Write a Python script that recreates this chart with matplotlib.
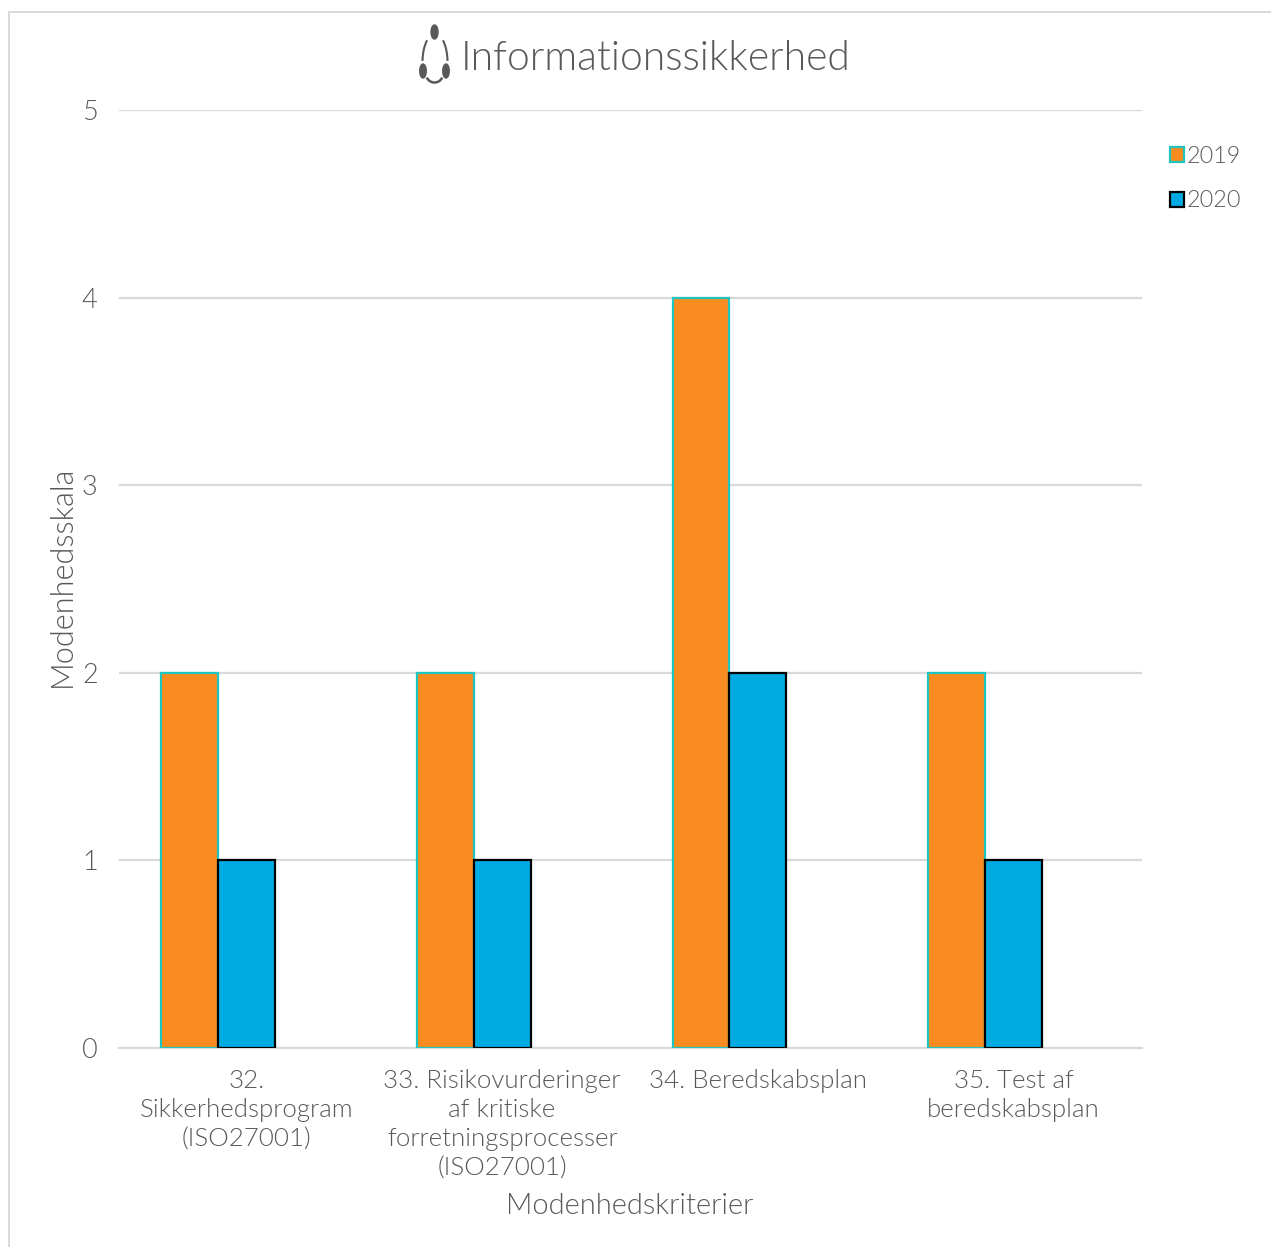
import matplotlib
matplotlib.use("Agg")
from matplotlib import pyplot as plt
from matplotlib.patches import Ellipse, Arc
import numpy as np

categories = ["32.\nSikkerhedsprogram\n(ISO27001)",
              "33. Risikovurderinger\naf kritiske\nforretningsprocesser\n(ISO27001)",
              "34. Beredskabsplan",
              "35. Test af\nberedskabsplan"]
values_2019 = [2, 2, 4, 2]
values_2020 = [1, 1, 2, 1]
yticks = [0, 1, 2, 3, 4, 5]

W, H = 1271, 1247
GREY = "#595959"
plt.rcParams["font.family"] = ["Lato", "DejaVu Sans"]
plt.rcParams["font.weight"] = 300

fig = plt.figure(figsize=(W / 100, H / 100), dpi=100)
ax = fig.add_axes([118.5 / W, 1 - 1048 / H, (1141 - 118) / W, (1048 - 110) / H])

# three slots per category, the third one stays empty
x = np.arange(len(categories))
width = 1 / 4.5
ax.bar(x - width, values_2019, width, color="#F98C20", edgecolor="#1FC4BE", linewidth=1.6, label="2019", zorder=3)
ax.bar(x, values_2020, width, color="#00ABE3", edgecolor="black", linewidth=1.6, label="2020", zorder=3)

ax.set_xlim(-0.5, len(categories) - 0.5)
ax.set_ylim(0, 5)
ax.set_yticks(yticks)
ax.set_xticks(x)
ax.set_xticklabels(categories, fontsize=18.6, color=GREY, linespacing=1.28)
ax.tick_params(axis="y", length=0, pad=15, labelsize=19.5, labelcolor=GREY)
ax.tick_params(axis="x", length=0, pad=15)
ax.grid(axis="y", color="#D9D9D9", linewidth=1.6, zorder=0)
ax.set_axisbelow(True)
for side in ["top", "right", "left"]:
    ax.spines[side].set_visible(False)
ax.spines["bottom"].set_color("#D9D9D9")
ax.spines["bottom"].set_linewidth(1.6)

fig.text(62 / W, 1 - 576 / H, "Modenhedsskala", rotation=90, ha="center", va="center", fontsize=22, color=GREY)
fig.text(630 / W, 1 - 1206 / H, "Modenhedskriterier", ha="center", va="center", fontsize=21, color=GREY)
fig.text(461 / W, 1 - 58 / H, "Informationssikkerhed", ha="left", va="center", fontsize=29.3, color=GREY)

leg = ax.legend(loc="upper left", bbox_to_anchor=(1163 / W, 1 - 139 / H), bbox_transform=fig.transFigure,
                frameon=False, fontsize=16.8, labelcolor=GREY, handlelength=0.6, handleheight=0.6,
                handletextpad=0.12, labelspacing=1.0, borderpad=0.3, borderaxespad=0)

# overlay in pixel coordinates for the frame and the logo
ov = fig.add_axes([0, 0, 1, 1], zorder=5)
ov.set_xlim(0, W)
ov.set_ylim(H, 0)
ov.axis("off")
ov.patch.set_alpha(0)
ov.plot([9, 9, W], [H, 12, 12], color="#D9D9D9", linewidth=1.4)
ov.add_patch(Ellipse((434.5, 32), 7, 14, color=GREY))
ov.add_patch(Ellipse((423, 71), 6.5, 14, color=GREY))
ov.add_patch(Ellipse((446, 71), 6.5, 14, color=GREY))
ov.add_patch(Arc((434.5, 74), 17, 17, theta1=25, theta2=155, color=GREY, linewidth=1.8))
ov.add_patch(Arc((435, 62), 25, 56, theta1=185, theta2=250, color=GREY, linewidth=1.5))
ov.add_patch(Arc((435, 62), 25, 56, theta1=290, theta2=355, color=GREY, linewidth=1.5))

fig.savefig("out.png", dpi=100)
